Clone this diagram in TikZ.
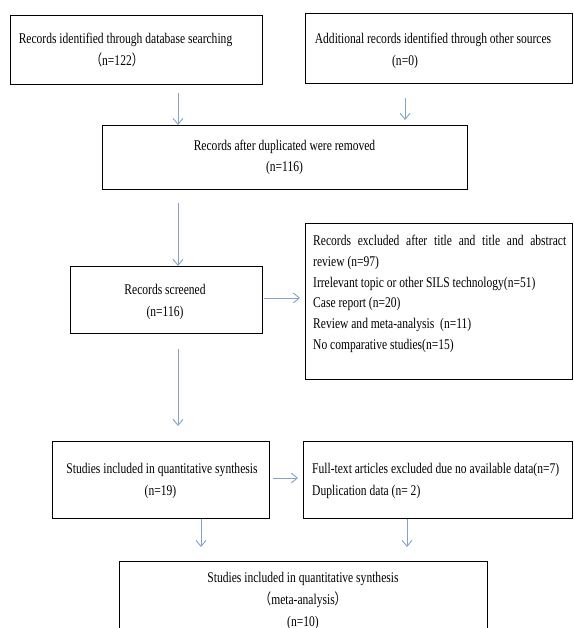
\documentclass[tikz,border=0pt]{standalone}
\usepackage{fontspec}
\setmainfont{Liberation Serif}[FakeStretch=0.78]
\newfontfamily\cjk{Noto Sans CJK SC}[FakeStretch=0.78]
\usetikzlibrary{arrows.meta}
\definecolor{arrowblue}{HTML}{84A3C8}
\newcommand\myfs{\fontsize{14.8pt}{20pt}\selectfont}
\begin{document}
\begin{tikzpicture}[x=1pt,y=-1pt,
  box/.style={draw=black, line width=0.9pt, inner sep=0pt, anchor=north west},
  boxline/.style={draw=black, line width=0.9pt},
  arr/.style={draw=arrowblue, line width=0.9pt, -{Straight Barb[length=6pt,width=10pt]}},
  txt/.style={anchor=base, inner sep=0pt, font=\myfs},
  txtl/.style={anchor=base west, inner sep=0pt, font=\myfs}]
\useasboundingbox (0,0) rectangle (573,628);
% boxes
\node[box, minimum width=252pt, minimum height=69pt] (b1) at (10,15) {};
\node[box, minimum width=267pt, minimum height=70pt] (b2) at (305,13) {};
\node[box, minimum width=365pt, minimum height=64pt] (b3) at (102,125) {};
\node[box, minimum width=192pt, minimum height=67pt] (b4) at (70,266) {};
\node[box, minimum width=267pt, minimum height=156pt] (b5) at (305,223) {};
\node[box, minimum width=217pt, minimum height=77pt] (b6) at (52,441) {};
\node[box, minimum width=269pt, minimum height=77pt] (b7) at (303,441) {};
\node[box, draw=none, minimum width=368pt, minimum height=67pt] (b8) at (119,561) {};
\draw[boxline] (b8.south west) -- (b8.north west) -- (b8.north east) -- (b8.south east);
% texts
\node[txt] (t1a) at (125.5,44) {Records identified through database searching};
\node[txt] (t1b) at (117,66) {{\cjk （}n=122{\cjk ）}};
\node[txt] (t2a) at (433,44) {Additional records identified through other sources};
\node[txt] (t2b) at (405,66) {(n=0)};
\node[txt] (t3a) at (284.5,151) {Records after duplicated were removed};
\node[txt] (t3b) at (284.5,172) {(n=116)};
\node[txt] (t4a) at (165,294) {Records screened};
\node[txt] (t4b) at (165,316) {(n=116)};
\node[txtl] (t5a) at (313,245) {\makebox[253pt][s]{Records excluded after title and title and abstract}};
\node[txtl] (t5b) at (313,266) {review (n=97)};
\node[txtl] (t5c) at (313,287) {Irrelevant topic or other SILS technology(n=51)};
\node[txtl] (t5d) at (313,307) {Case report (n=20)};
\node[txtl] (t5e) at (313,328) {Review and meta-analysis\ \ (n=11)};
\node[txtl] (t5f) at (313,349) {No comparative studies(n=15)};
\node[txt] (t6a) at (162,473) {Studies included in quantitative synthesis};
\node[txt] (t6b) at (160.5,495) {(n=19)};
\node[txtl] (t7a) at (312,473) {Full-text articles excluded due no available data(n=7)};
\node[txtl] (t7b) at (312,495) {Duplication data (n= 2)};
\node[txt] (t8a) at (303,582) {Studies included in quantitative synthesis};
\node[txt] (t8b) at (303,604) {{\cjk （}meta-analysis{\cjk ）}};
\node[txt] (t8c) at (303,626) {(n=10)};
% helper coordinates
\coordinate (xl) at (178,0);
\coordinate (xr) at (405,0);
\coordinate (x6) at (201,0);
\coordinate (x7) at (407,0);
\coordinate (y4) at (0,298);
\coordinate (y6) at (0,478);
% arrows
\draw[arr, shorten <=8pt] (b1.south -| xl) -- (b3.north -| xl);
\draw[arr, shorten <=14pt, shorten >=5pt] (b2.south -| xr) -- (b3.north -| xr);
\draw[arr, shorten <=13pt] (b3.south -| xl) -- (b4.north -| xl);
\draw[arr, shorten <=1pt, shorten >=5pt] (b4.east |- y4) -- (b5.west |- y4);
\draw[arr, shorten <=15pt, shorten >=15pt] (b4.south -| xl) -- (b6.north -| xl);
\draw[arr, shorten <=3pt, shorten >=5pt] (b6.east |- y6) -- (b7.west |- y6);
\draw[arr, shorten >=14pt] (b6.south -| x6) -- (b8.north -| x6);
\draw[arr, shorten >=14pt] (b7.south -| x7) -- (b8.north -| x7);
\end{tikzpicture}
\end{document}
